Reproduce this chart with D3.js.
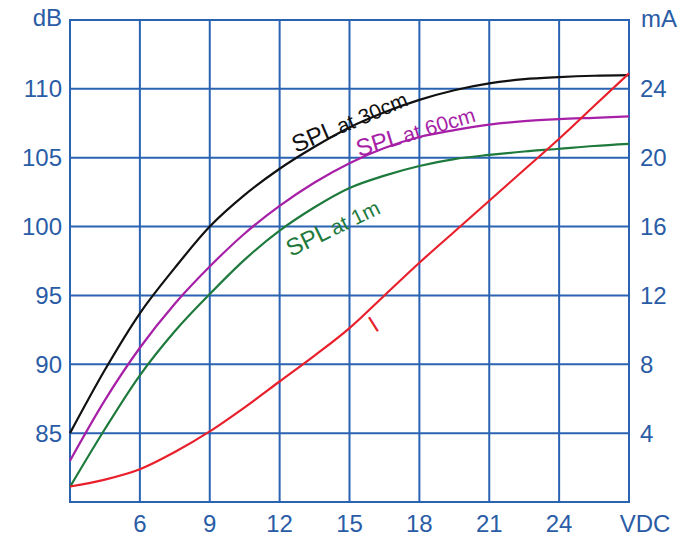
<!DOCTYPE html>
<html><head><meta charset="utf-8">
<script src="https://cdn.jsdelivr.net/npm/d3@7"></script>
<style>body{margin:0;background:#fff}svg{display:block}text{font-family:"Liberation Sans",Arial,sans-serif}</style>
</head><body>
<svg id="c" width="691" height="537"></svg>
<script>
const voltage = [3, 4.5, 6, 7.5, 9, 10.5, 12, 13.5, 15, 16.5, 18, 19.5, 21, 22.5, 24, 25.5, 27];
const spl30cm = [85, 89.6, 93.7, 97.0, 100.0, 102.3, 104.2, 105.8, 107.2, 108.3, 109.2, 109.9, 110.4, 110.7, 110.85, 110.95, 111];
const spl60cm = [83, 87.4, 91.2, 94.4, 97.1, 99.5, 101.5, 103.2, 104.6, 105.7, 106.5, 107.0, 107.4, 107.65, 107.8, 107.9, 108];
const spl1m = [81.1, 85.3, 89.2, 92.4, 95.1, 97.6, 99.7, 101.4, 102.8, 103.7, 104.4, 104.9, 105.2, 105.45, 105.65, 105.85, 106];
const currentI = [0.9, 1.3, 1.9, 2.9, 4.1, 5.5, 7.0, 8.5, 10.1, 12.0, 13.9, 15.7, 17.5, 19.3, 21.1, 23.0, 24.9];
const xTicks = [6, 9, 12, 15, 18, 21, 24];
const dbTicks = [85, 90, 95, 100, 105, 110];
const maTicks = [4, 8, 12, 16, 20, 24];
const labels = {x: "VDC", yLeft: "dB", yRight: "mA"};

const svg = d3.select("#c");
const L = 70, R = 629, T = 20, B = 502;
const x = d3.scaleLinear().domain([3, 27]).range([L, R]);
const yDb = d3.scaleLinear().domain([80, 115]).range([B, T]);
const yMa = d3.scaleLinear().domain([0, 28]).range([B, T]);
const gridC = "#2a63b2", textC = "#2a5ca6";
const fs = 24;

const g = svg.append("g");
g.selectAll("line.v").data(xTicks).join("line")
  .attr("x1", d => x(d)).attr("x2", d => x(d)).attr("y1", T).attr("y2", B)
  .attr("stroke", gridC).attr("stroke-width", 2);
g.selectAll("line.h").data(dbTicks).join("line")
  .attr("y1", d => yDb(d)).attr("y2", d => yDb(d)).attr("x1", L).attr("x2", R)
  .attr("stroke", gridC).attr("stroke-width", 2);
g.append("rect").attr("x", L).attr("y", T).attr("width", R - L).attr("height", B - T)
  .attr("fill", "none").attr("stroke", gridC).attr("stroke-width", 2);

svg.selectAll("text.xl").data(xTicks).join("text")
  .attr("x", d => x(d)).attr("y", 532).attr("text-anchor", "middle")
  .attr("font-size", fs).attr("fill", textC).text(d => d);
svg.append("text").attr("x", 645).attr("y", 532).attr("text-anchor", "middle")
  .attr("font-size", fs).attr("fill", textC).text(labels.x);
svg.selectAll("text.yl").data(dbTicks).join("text")
  .attr("x", 62).attr("y", d => yDb(d) + 8.5).attr("text-anchor", "end")
  .attr("font-size", fs).attr("fill", textC).text(d => d);
svg.append("text").attr("x", 62).attr("y", 26).attr("text-anchor", "end")
  .attr("font-size", fs).attr("fill", textC).text(labels.yLeft);
svg.selectAll("text.yr").data(maTicks).join("text")
  .attr("x", 640).attr("y", d => yMa(d) + 8.5).attr("text-anchor", "start")
  .attr("font-size", fs).attr("fill", textC).text(d => d);
svg.append("text").attr("x", 641).attr("y", 27).attr("text-anchor", "start")
  .attr("font-size", fs).attr("fill", textC).text(labels.yRight);

const series = [
  {vals: spl30cm, y: yDb, color: "#111111"},
  {vals: spl60cm, y: yDb, color: "#a61fa6"},
  {vals: spl1m, y: yDb, color: "#1e7a3c"},
  {vals: currentI, y: yMa, color: "#e8202c"}
];
series.forEach(s => {
  const line = d3.line().x((d, i) => x(voltage[i])).y(d => s.y(d)).curve(d3.curveMonotoneX);
  svg.append("path").attr("d", line(s.vals)).attr("fill", "none")
    .attr("stroke", s.color).attr("stroke-width", 2.2);
});

function lab(txt1, txt2, px, py, ang, color) {
  const t = svg.append("text").attr("transform", `translate(${px},${py}) rotate(${ang})`).attr("fill", color);
  t.append("tspan").attr("font-size", 24).text(txt1);
  if (txt2) t.append("tspan").attr("font-size", 21).attr("dx", 3).text(txt2);
}
lab("SPL", "at 30cm", 296, 153, -23, "#111111");
lab("SPL", "at 60cm", 359, 157, -17, "#a61fa6");
lab("SPL", "at 1m", 291, 257, -26, "#1e7a3c");
lab("I", null, 375, 333, -32, "#e8202c");
</script>
</body></html>
